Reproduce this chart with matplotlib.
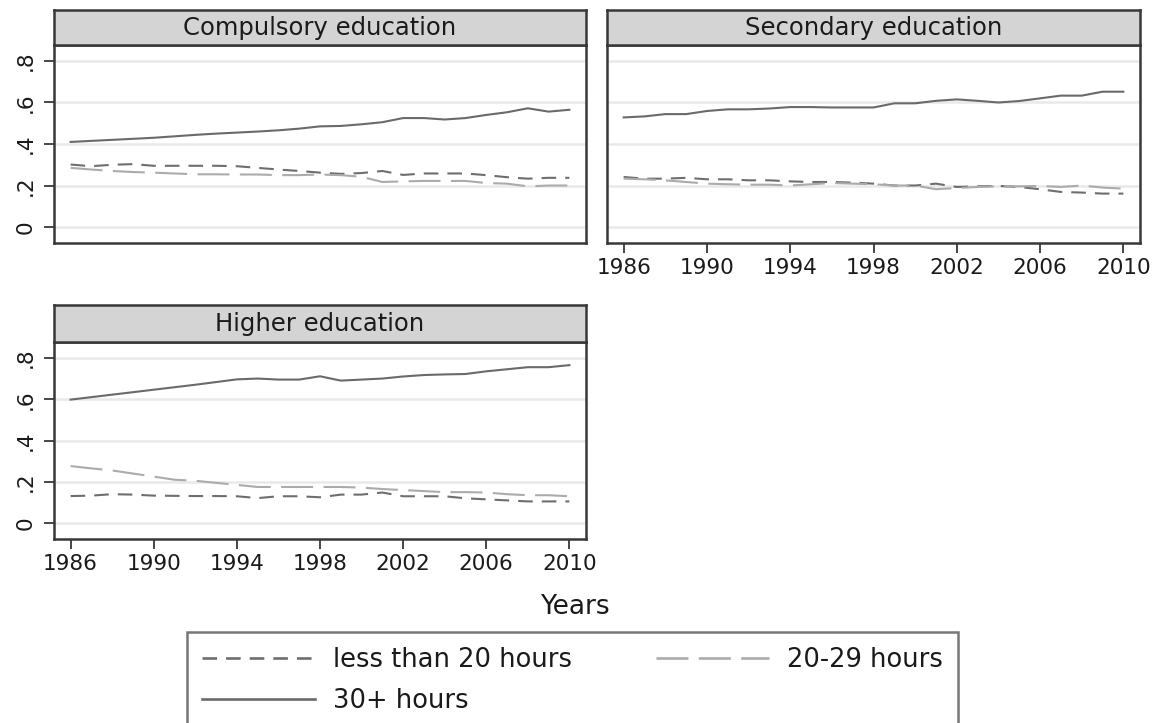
import matplotlib
matplotlib.use("Agg")
import matplotlib.pyplot as plt
from matplotlib.lines import Line2D

plt.rcParams['font.family'] = ['DejaVu Sans']
plt.rcParams['lines.scale_dashes'] = False

years = list(range(1986, 2011))

# Compulsory education
comp_lt20 = [0.301, 0.293, 0.300, 0.303, 0.295, 0.295, 0.295, 0.295, 0.293, 0.285, 0.277, 0.270, 0.262,
             0.256, 0.260, 0.270, 0.251, 0.258, 0.258, 0.258, 0.250, 0.240, 0.233, 0.237, 0.237]
comp_2029 = [0.285, 0.277, 0.270, 0.265, 0.262, 0.258, 0.254, 0.254, 0.253, 0.253, 0.250, 0.250, 0.253,
             0.250, 0.242, 0.217, 0.220, 0.222, 0.222, 0.222, 0.212, 0.209, 0.196, 0.200, 0.200]
comp_30 = [0.410, 0.415, 0.420, 0.425, 0.430, 0.437, 0.444, 0.450, 0.455, 0.460, 0.466, 0.474, 0.485,
           0.487, 0.495, 0.505, 0.525, 0.525, 0.518, 0.525, 0.540, 0.553, 0.572, 0.556, 0.565]

# Secondary education
sec_lt20 = [0.241, 0.233, 0.233, 0.237, 0.230, 0.230, 0.225, 0.225, 0.220, 0.217, 0.217, 0.214, 0.209,
            0.200, 0.200, 0.209, 0.193, 0.196, 0.198, 0.193, 0.182, 0.169, 0.166, 0.161, 0.161]
sec_2029 = [0.233, 0.230, 0.225, 0.217, 0.209, 0.206, 0.204, 0.204, 0.200, 0.206, 0.212, 0.209, 0.206,
            0.200, 0.200, 0.182, 0.188, 0.193, 0.196, 0.196, 0.198, 0.193, 0.200, 0.190, 0.185]
sec_30 = [0.528, 0.533, 0.544, 0.544, 0.559, 0.567, 0.567, 0.571, 0.578, 0.578, 0.576, 0.576, 0.576,
          0.596, 0.596, 0.608, 0.615, 0.608, 0.600, 0.607, 0.620, 0.633, 0.633, 0.652, 0.652]

# Higher education
high_lt20 = [0.131, 0.133, 0.140, 0.138, 0.133, 0.132, 0.131, 0.131, 0.130, 0.121, 0.130, 0.130, 0.125,
             0.138, 0.138, 0.148, 0.130, 0.130, 0.130, 0.120, 0.115, 0.110, 0.105, 0.105, 0.105]
high_2029 = [0.276, 0.265, 0.255, 0.240, 0.225, 0.210, 0.205, 0.195, 0.185, 0.175, 0.175, 0.175, 0.175,
             0.175, 0.172, 0.165, 0.160, 0.155, 0.150, 0.150, 0.148, 0.140, 0.135, 0.135, 0.130]
high_30 = [0.598, 0.610, 0.622, 0.634, 0.646, 0.658, 0.670, 0.683, 0.696, 0.700, 0.695, 0.695, 0.711,
           0.690, 0.695, 0.700, 0.710, 0.717, 0.720, 0.722, 0.735, 0.745, 0.755, 0.755, 0.765]

panel_titles = ["Compulsory education", "Secondary education", "Higher education"]
series_labels = ["less than 20 hours", "20-29 hours", "30+ hours"]
xticks = [1986, 1990, 1994, 1998, 2002, 2006, 2010]
yticks = [0, 0.2, 0.4, 0.6, 0.8]
ytick_labels = ["0", ".2", ".4", ".6", ".8"]

W, H = 1167, 723
fig = plt.figure(figsize=(W / 100, H / 100), dpi=100)

edge = "#383838"
styles = [
    dict(color="#6e6e6e", dashes=(10.5, 6.5)),
    dict(color="#ababab", dashes=(23, 7.5)),
    dict(color="#6a6a6a", linestyle="-"),
]


def px_axes(x0, y0, x1, y1):
    return fig.add_axes([x0 / W, 1 - y1 / H, (x1 - x0) / W, (y1 - y0) / H])


def panel(box, hdr_top, title, data, show_x, show_y):
    x0, y0, x1, y1 = box
    ax = px_axes(x0, y0, x1, y1)
    hd = px_axes(x0, hdr_top, x1, y0)
    hd.set_facecolor("#d4d4d4")
    hd.set_xticks([])
    hd.set_yticks([])
    for s in hd.spines.values():
        s.set_color(edge)
        s.set_linewidth(1.8)
    hd.text(0.5, 0.5, title, ha="center", va="center", fontsize=17.5, color="#1a1a1a",
            transform=hd.transAxes)

    for yv in yticks:
        ax.axhline(yv, color="#e9e9e9", lw=1.8, zorder=0)
    for vals, st in zip(data, styles):
        ax.plot(years, vals, lw=1.5, zorder=2, **st)
    ax.set_xlim(1985.2, 2010.8)
    ax.set_ylim(-0.077, 0.877)
    for s in ax.spines.values():
        s.set_color(edge)
        s.set_linewidth(1.8)
    ax.tick_params(colors=edge, width=1.3, length=7.5, labelcolor="#1a1a1a", labelsize=15.5)
    if show_x:
        ax.set_xticks(xticks)
        ax.set_xticklabels([str(v) for v in xticks])
        ax.tick_params(axis="x", pad=3.5)
    else:
        ax.set_xticks([])
    if show_y:
        ax.set_yticks(yticks)
        ax.set_yticklabels(ytick_labels, rotation=90, va="center")
        ax.tick_params(axis="y", pad=6)
    else:
        ax.set_yticks([])
    return ax


panel((54, 45, 586, 243), 10, panel_titles[0], [comp_lt20, comp_2029, comp_30], False, True)
panel((607, 45, 1140, 243), 10, panel_titles[1], [sec_lt20, sec_2029, sec_30], True, False)
panel((54, 342, 586, 539), 305, panel_titles[2], [high_lt20, high_2029, high_30], True, True)

fig.text(575 / W, 1 - 607 / H, "Years", ha="center", va="center", fontsize=19, color="#1a1a1a")

handles = [Line2D([], [], lw=1.9, **st) for st in styles]
order = [0, 2, 1]
leg = fig.legend([handles[i] for i in order], [series_labels[i] for i in order],
                 loc="upper left", ncol=2, mode="expand",
                 bbox_to_anchor=(187 / W, 1 - 632 / H - 0.2, 771 / W, 0.2),
                 fontsize=18.5, handlelength=4.4, handletextpad=0.7, borderpad=0.6,
                 labelspacing=0.55, fancybox=False, frameon=True, borderaxespad=0)
leg.get_frame().set_edgecolor("#555555")
leg.get_frame().set_linewidth(1.8)
for t in leg.get_texts():
    t.set_color("#1a1a1a")

fig.savefig("out.png", dpi=100, facecolor="white")
